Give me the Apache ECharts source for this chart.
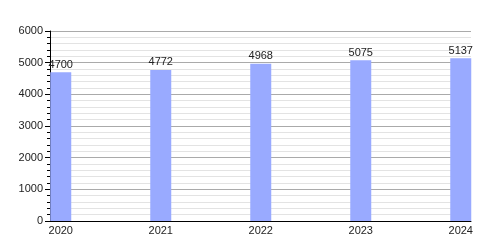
<!DOCTYPE html>
<html><head><meta charset="utf-8">
<script src="https://cdn.jsdelivr.net/npm/echarts@6/dist/echarts.min.js"></script>
<style>html,body{margin:0;padding:0;background:#fff}#c{width:500px;height:250px}</style>
</head><body><div id="c"></div>
<script>
const years = [2020, 2021, 2022, 2023, 2024];
const values = [4700, 4772, 4968, 5075, 5137];
const yTicks = [0, 1000, 2000, 3000, 4000, 5000, 6000];

const chart = echarts.init(document.getElementById('c'), null, {renderer: 'canvas'});
chart.setOption({
  animation: false,
  textStyle: {fontFamily: 'Liberation Sans, Arial, sans-serif'},
  grid: {left: 50, right: 29, top: 31, bottom: 29},
  xAxis: {
    type: 'value',
    min: 2019.8925,
    max: 2024.1025,
    axisLine: {show: true, lineStyle: {color: '#000', width: 1}},
    axisTick: {show: false},
    splitLine: {show: false},
    axisLabel: {
      customValues: years,
      color: '#222',
      fontSize: 11,
      margin: 4,
      formatter: v => String(Math.round(v))
    }
  },
  yAxis: {
    type: 'value',
    min: yTicks[0],
    max: yTicks[yTicks.length - 1],
    interval: 1000,
    axisLine: {show: true, lineStyle: {color: '#000', width: 1}},
    axisTick: {show: true, length: 5, lineStyle: {color: '#000'}},
    minorTick: {show: true, splitNumber: 5, length: 3, lineStyle: {color: '#000'}},
    splitLine: {show: true, lineStyle: {color: '#aaa', width: 1}},
    minorSplitLine: {show: true, lineStyle: {color: '#e3e3e3', width: 1}},
    axisLabel: {color: '#222', fontSize: 11, margin: 7, formatter: v => String(v)}
  },
  series: [{
    type: 'bar',
    data: years.map((y, i) => [y, values[i]]),
    barWidth: 21,
    itemStyle: {color: '#99aaff'},
    label: {show: true, position: 'top', distance: 2, color: '#222', fontSize: 11}
  }]
});
</script></body></html>
